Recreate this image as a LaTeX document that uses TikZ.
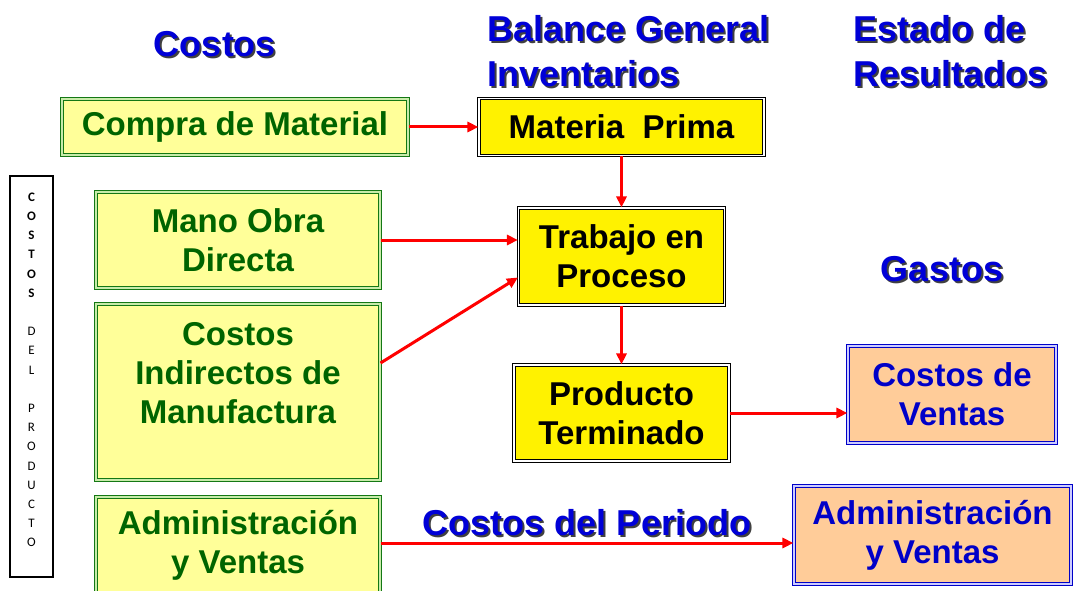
\documentclass[tikz,border=0pt]{standalone}
\usepackage{fontspec}
\setmainfont{Liberation Sans}
\newfontfamily\vertfont{Carlito}
\usetikzlibrary{arrows.meta}
\definecolor{headblue}{RGB}{0,0,215}
\definecolor{boxblue}{RGB}{0,0,200}
\definecolor{txtgreen}{RGB}{0,100,0}
\definecolor{linegreen}{RGB}{20,120,20}
\definecolor{gapgreen}{RGB}{200,235,170}
\definecolor{paleyellow}{RGB}{255,255,153}
\definecolor{peach}{RGB}{255,204,153}
\newcommand\shd[1]{\makebox[0pt][l]{\kern2pt\raisebox{-2pt}{\color{black!75}#1}}#1}

\begin{document}
\begin{tikzpicture}[x=1pt,y=-1pt,
        every node/.style={font=\bfseries\fontsize{33}{39}\selectfont,align=center,inner sep=0pt},
        costbox/.style={draw=linegreen,double=gapgreen,double distance=1.4pt,line width=1.1pt,fill=paleyellow,text=txtgreen},
        invbox/.style={draw=black,double=white,double distance=1.4pt,line width=1.1pt,fill=yellow,text=black},
        resbox/.style={draw=boxblue,double=blue!20,double distance=1.4pt,line width=1.1pt,fill=peach,text=boxblue},
        head/.style={font=\bfseries\fontsize{36}{44}\selectfont,text=headblue},
        flow/.style={draw=red,line width=3pt,-{Triangle[length=11pt,width=10pt]}}]
                \useasboundingbox (0,0) rectangle (1073,591);

                \node[draw,line width=1.8pt,fill=white,minimum width=43pt,minimum height=401pt,
                      font=\vertfont\fontsize{13}{19.2}\selectfont] (vert) at (31.5,376.5)
                      {\textbf{C}\\\textbf{O}\\\textbf{S}\\\textbf{T}\\\textbf{O}\\\textbf{S}\\\mbox{}\\D\\E\\L\\\mbox{}\\P\\R\\O\\D\\U\\C\\T\\O\\[-6pt]\mbox{}};

                \node[costbox,minimum width=346pt,minimum height=56pt] (compra) at (235,127) {Compra de Material};
                \node[costbox,minimum width=284pt,minimum height=96pt] (mano) at (238,240) {Mano Obra\\Directa};
                \node[costbox,minimum width=284pt,minimum height=176pt] (indirectos) at (238,392) {Costos\\Indirectos de\\Manufactura\\\mbox{}};
                \node[costbox,minimum width=284pt,minimum height=96pt] (admcost) at (238,545) {Administración\\y Ventas};

                \node[invbox,minimum width=285pt,minimum height=57pt] (materia) at (621.5,127) {Materia~~Prima};
                \node[invbox,minimum width=206pt,minimum height=97pt] (trabajo) at (621.5,256.5) {Trabajo en\\Proceso};
                \node[invbox,minimum width=215pt,minimum height=96pt] (producto) at (621.5,413) {Producto\\Terminado};

                \node[resbox,minimum width=208pt,minimum height=97pt] (ventas) at (952,394.5) {Costos de\\Ventas};
                \node[resbox,minimum width=277pt,minimum height=98pt] (admres) at (932.5,535) {Administración\\y Ventas};

                \node[head,anchor=base] (costos) at (215,57) {\shd{Costos}};
                \node[head,anchor=base west] (balance) at (487,42) {\shd{Balance General}};
                \node[head,anchor=base west] (inventarios) at (487,87) {\shd{Inventarios}};
                \node[head,anchor=base west] (estado) at (853,42) {\shd{Estado de}};
                \node[head,anchor=base west] (resultados) at (853,87) {\shd{Resultados}};
                \node[head,anchor=base] (gastos) at (942,281) {\shd{Gastos}};
                \node[head,anchor=base] (periodo) at (587,535) {\shd{Costos del Periodo}};

                \draw[flow] (compra) -- (materia);
                \draw[flow] (materia) -- (trabajo);
                \draw[flow] (mano) -- (mano -| trabajo.west);
                \draw[flow] ([yshift=29pt]indirectos.east) -- ([yshift=-21pt]trabajo.west);
                \draw[flow] (trabajo) -- (producto);
                \draw[flow] (producto) -- (producto -| ventas.west);
                \draw[flow] ([yshift=2pt]admcost.east) -- ([yshift=2pt]admcost.east -| admres.west);
            \end{tikzpicture}
\end{document}
